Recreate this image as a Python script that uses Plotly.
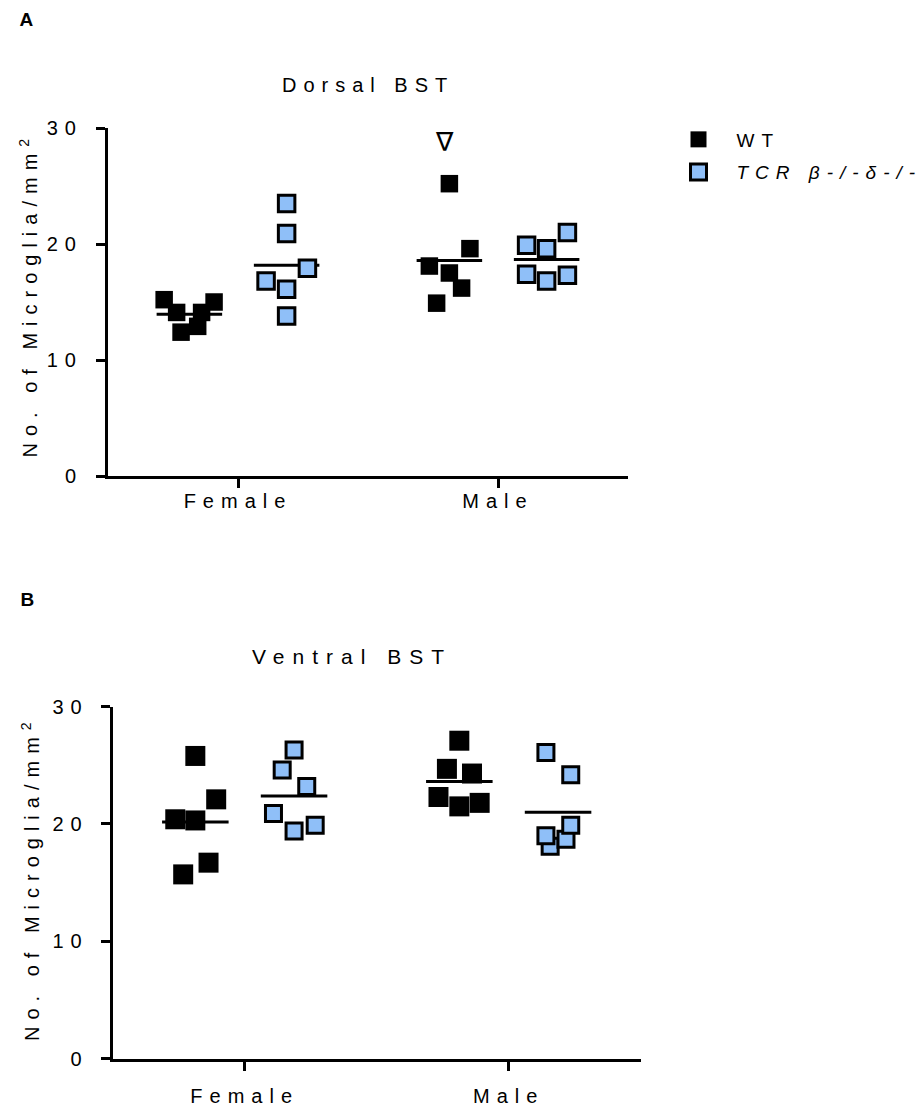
import numpy as np
import plotly.graph_objects as go

# ---------------- data ----------------
categories = ["Female", "Male"]
y_ticks = [0, 10, 20, 30]

# Dorsal BST
dorsal_wt_f = [15.2, 14.1, 12.4, 12.9, 14.1, 15.0]
dorsal_wt_m = [25.2, 19.6, 18.1, 17.5, 16.2, 14.9]
dorsal_ko_f = [23.5, 20.9, 17.9, 16.8, 16.1, 13.8]
dorsal_ko_m = [21.0, 19.9, 19.6, 17.4, 17.3, 16.8]
# horizontal scatter of the points inside each group (category units)
dorsal_wt_f_jit = [-0.097, -0.049, -0.032, 0.032, 0.047, 0.095]
dorsal_wt_m_jit = [0.0, 0.079, -0.077, 0.0, 0.047, -0.049]
dorsal_ko_f_jit = [0.0, 0.0, 0.080, -0.079, 0.0, 0.0]
dorsal_ko_m_jit = [0.080, -0.077, 0.0, -0.077, 0.080, 0.0]

# Ventral BST
ventral_wt_f = [25.8, 22.1, 20.4, 20.3, 16.7, 15.7]
ventral_wt_m = [27.1, 24.7, 24.3, 22.3, 21.8, 21.5]
ventral_ko_f = [26.3, 24.6, 23.2, 20.9, 19.9, 19.4]
ventral_ko_m = [26.1, 24.2, 18.1, 18.7, 19.0, 19.9]
ventral_wt_f_jit = [0.0, 0.079, -0.076, 0.0, 0.050, -0.046]
ventral_wt_m_jit = [0.0, -0.047, 0.048, -0.079, 0.077, 0.0]
ventral_ko_f_jit = [0.0, -0.045, 0.048, -0.078, 0.080, 0.0]
ventral_ko_m_jit = [-0.046, 0.048, -0.030, 0.030, -0.046, 0.048]

# outlier mark above the Male WT group in Dorsal BST
mark_value = 28.8

wt_name = "WT"
ko_name = "<i>TCR β-/-δ-/-</i>"

# ---------------- styling ----------------
W, H = 922, 1109
FONT = "Liberation Sans, Arial, sans-serif"
KO_FILL = "#8FBFF8"
OFFSET = 0.187   # group offset from category tick
HALF = 0.126     # half-width of mean bar


def pxx(p):
    return p / W


def pxy(p):
    return 1 - p / H


fig = go.Figure()

panels = [
    dict(xa="x", ya="y", wt=[dorsal_wt_f, dorsal_wt_m], ko=[dorsal_ko_f, dorsal_ko_m],
         wtj=[dorsal_wt_f_jit, dorsal_wt_m_jit], koj=[dorsal_ko_f_jit, dorsal_ko_m_jit],
         wt_size=17.5, ko_size=16.5, legend=True),
    dict(xa="x2", ya="y2", wt=[ventral_wt_f, ventral_wt_m], ko=[ventral_ko_f, ventral_ko_m],
         wtj=[ventral_wt_f_jit, ventral_wt_m_jit], koj=[ventral_ko_f_jit, ventral_ko_m_jit],
         wt_size=20, ko_size=16, legend=False),
]

for p in panels:
    for key, sign in (("wt", -1), ("ko", 1)):
        mx, my = [], []
        for ci, vals in enumerate(p[key]):
            c = ci + sign * OFFSET
            m = float(np.mean(vals))
            mx += [c - HALF, c + HALF, None]
            my += [m, m, None]
        fig.add_trace(go.Scatter(x=mx, y=my, mode="lines", xaxis=p["xa"], yaxis=p["ya"],
                                 line=dict(color="black", width=3), showlegend=False,
                                 hoverinfo="skip", cliponaxis=False))
    for key, sign, name in (("wt", -1, wt_name), ("ko", 1, ko_name)):
        xs, ys = [], []
        for ci, (vals, jit) in enumerate(zip(p[key], p[key + "j"])):
            c = ci + sign * OFFSET
            xs += [c + j for j in jit]
            ys += list(vals)
        if key == "wt":
            marker = dict(symbol="square", size=p["wt_size"], color="black",
                          line=dict(width=0))
        else:
            marker = dict(symbol="square", size=p["ko_size"], color=KO_FILL,
                          line=dict(width=3, color="black"))
        fig.add_trace(go.Scatter(x=xs, y=ys, mode="markers", xaxis=p["xa"], yaxis=p["ya"],
                                 marker=marker, name=name, showlegend=p["legend"],
                                 legendgroup=key, cliponaxis=False))

axis_common = dict(showline=True, linewidth=3, linecolor="black", ticks="outside",
                   ticklen=9, tickwidth=3, tickcolor="black", showgrid=False,
                   zeroline=False, fixedrange=True, automargin=False,
                   tickfont=dict(family=FONT, size=20, color="black"))

fig.update_layout(
    template="none",
    width=W, height=H, autosize=False,
    margin=dict(l=0, r=0, t=0, b=0, pad=0, autoexpand=False),
    paper_bgcolor="white", plot_bgcolor="white",
    font=dict(family=FONT, color="black"),
    xaxis=dict(domain=[pxx(108), pxx(628)], range=[-0.5, 1.5], anchor="y",
               tickvals=[0, 1], ticktext=categories, ticklabelstandoff=-4, **axis_common),
    yaxis=dict(domain=[pxy(476), pxy(128)], range=[0, 30], anchor="x",
               tickvals=y_ticks, ticklabelstandoff=9, **axis_common),
    xaxis2=dict(domain=[pxx(112.7), pxx(640.7)], range=[-0.5, 1.5], anchor="y2",
                tickvals=[0, 1], ticktext=categories, ticklabelstandoff=8, **axis_common),
    yaxis2=dict(domain=[pxy(1058.5), pxy(706.7)], range=[0, 30], anchor="x2",
                tickvals=y_ticks, ticklabelstandoff=8, **axis_common),
    legend=dict(x=pxx(660.5), y=pxy(120.5), xanchor="left", yanchor="top",
                font=dict(family=FONT, size=19, color="black"), itemwidth=66,
                traceorder="grouped", tracegroupgap=5, bgcolor="rgba(0,0,0,0)",
                borderwidth=0, itemclick=False, itemdoubleclick=False),
    showlegend=True,
    hovermode=False,
)

ytitle = "No. of Microglia/mm<sup>2</sup>"
ann = [
    dict(text="<b>A</b>", x=pxx(29.5), y=pxy(20), size=19, angle=0),
    dict(text="<b>B</b>", x=pxx(30.5), y=pxy(599), size=19, angle=0),
    dict(text="Dorsal BST", x=pxx(367.5), y=pxy(85), size=20, angle=0),
    dict(text="Ventral BST", x=pxx(352), y=pxy(656), size=21, angle=0),
    dict(text=ytitle, x=pxx(28.5), y=pxy(295), size=20, angle=-90),
    dict(text=ytitle, x=pxx(30), y=pxy(878), size=20, angle=-90),
]
for a in ann:
    fig.add_annotation(text=a["text"], x=a["x"], y=a["y"], xref="paper", yref="paper",
                       xanchor="center", yanchor="middle", showarrow=False,
                       textangle=a["angle"],
                       font=dict(family=FONT, size=a["size"], color="black"))

fig.add_annotation(text="∇", x=1 - OFFSET - 0.02, y=mark_value, xref="x", yref="y",
                   xanchor="center", yanchor="middle", showarrow=False,
                   font=dict(family="DejaVu Sans", size=26, color="black"))

post = """
var gd = document.getElementById('{plot_id}');
document.body.style.margin = '0';
gd.querySelectorAll('text').forEach(function(t){
  var s = t.textContent;
  if (s === '\\u2207') { return; }
  t.style.letterSpacing = (s === 'Ventral BST') ? '8px' : '7px';
});
gd.querySelectorAll('.legend [clip-path], .legend[clip-path]').forEach(function(e){
  e.removeAttribute('clip-path');
});
"""

fig.write_html("out.html", post_script=post, config={"displayModeBar": False})
